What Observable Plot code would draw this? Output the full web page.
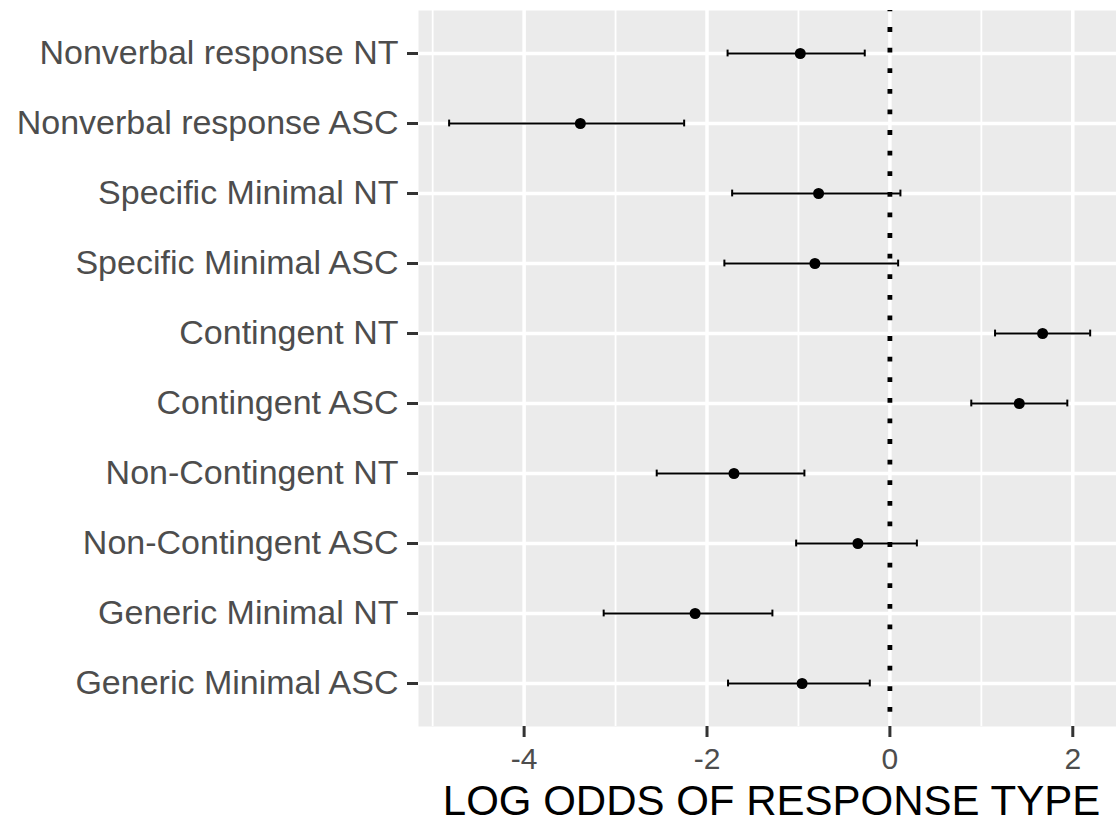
<!DOCTYPE html>
<html>
<head>
<meta charset="utf-8">
<script src="https://cdn.jsdelivr.net/npm/d3@7"></script>
<script src="https://cdn.jsdelivr.net/npm/@observablehq/plot@0.6"></script>
<style>
  html, body { margin: 0; padding: 0; background: white; }
  svg { display: block; }
</style>
</head>
<body>
<div id="chart"></div>
<script>
const categories = [
  "Nonverbal response NT",
  "Nonverbal response ASC",
  "Specific Minimal NT",
  "Specific Minimal ASC",
  "Contingent NT",
  "Contingent ASC",
  "Non-Contingent NT",
  "Non-Contingent ASC",
  "Generic Minimal NT",
  "Generic Minimal ASC"
];
const estimate = [-0.98, -3.385, -0.78, -0.82, 1.67, 1.415, -1.705, -0.35, -2.13, -0.96];
const lower    = [-1.775, -4.82, -1.725, -1.81, 1.15, 0.89, -2.55, -1.025, -3.13, -1.77];
const upper    = [-0.275, -2.25, 0.115, 0.09, 2.19, 1.94, -0.935, 0.295, -1.285, -0.22];
const majorTicks = [-4, -2, 0, 2];
const minorTicks = [-5, -3, -1, 1];
const xLabel = "LOG ODDS OF RESPONSE TYPE";

const rows = categories.map((c, i) => ({term: c, est: estimate[i], lo: lower[i], hi: upper[i]}));

const chart = Plot.plot({
  width: 1116,
  height: 823,
  marginLeft: 418,
  marginRight: 0,
  marginTop: 10,
  marginBottom: 97,
  style: {fontFamily: "'Liberation Sans', Arial, Helvetica, sans-serif", background: "white", color: "#4D4D4D"},
  x: {domain: [-5.155, 2.478], label: null},
  y: {type: "band", domain: categories, paddingInner: 0, paddingOuter: 0.1, label: null},
  marks: [
    Plot.frame({fill: "#EBEBEB", stroke: null}),
    Plot.gridX(minorTicks, {stroke: "white", strokeOpacity: 1, strokeWidth: 1.8}),
    Plot.gridX(majorTicks, {stroke: "white", strokeOpacity: 1, strokeWidth: 3.5}),
    Plot.gridY(categories, {stroke: "white", strokeOpacity: 1, strokeWidth: 3.5}),
    Plot.ruleX([0], {stroke: "black", strokeWidth: 4.8, strokeDasharray: "4.8 15.8", strokeDashoffset: 3.5}),
    Plot.ruleY(rows, {y: "term", x1: "lo", x2: "hi", stroke: "black", strokeWidth: 2}),
    Plot.tickX(rows, {x: "lo", y: "term", stroke: "black", strokeWidth: 2, insetTop: 31.6, insetBottom: 31.6}),
    Plot.tickX(rows, {x: "hi", y: "term", stroke: "black", strokeWidth: 2, insetTop: 31.6, insetBottom: 31.6}),
    Plot.dot(rows, {x: "est", y: "term", r: 5.5, fill: "black", stroke: null}),
    Plot.axisX(majorTicks, {tickSize: 11, tickPadding: 10, fontSize: 30, tickFormat: d => String(d), color: "#4D4D4D", stroke: "#333333", strokeWidth: 3, label: null}),
    Plot.axisY(categories, {tickSize: 11, tickPadding: 9, fontSize: 34, color: "#4D4D4D", stroke: "#333333", strokeWidth: 3, label: null}),
    Plot.text([xLabel], {frameAnchor: "bottom", lineAnchor: "bottom", dy: 88, dx: 4, fontSize: 42, fill: "black"})
  ]
});
document.getElementById("chart").appendChild(chart);
</script>
</body>
</html>
